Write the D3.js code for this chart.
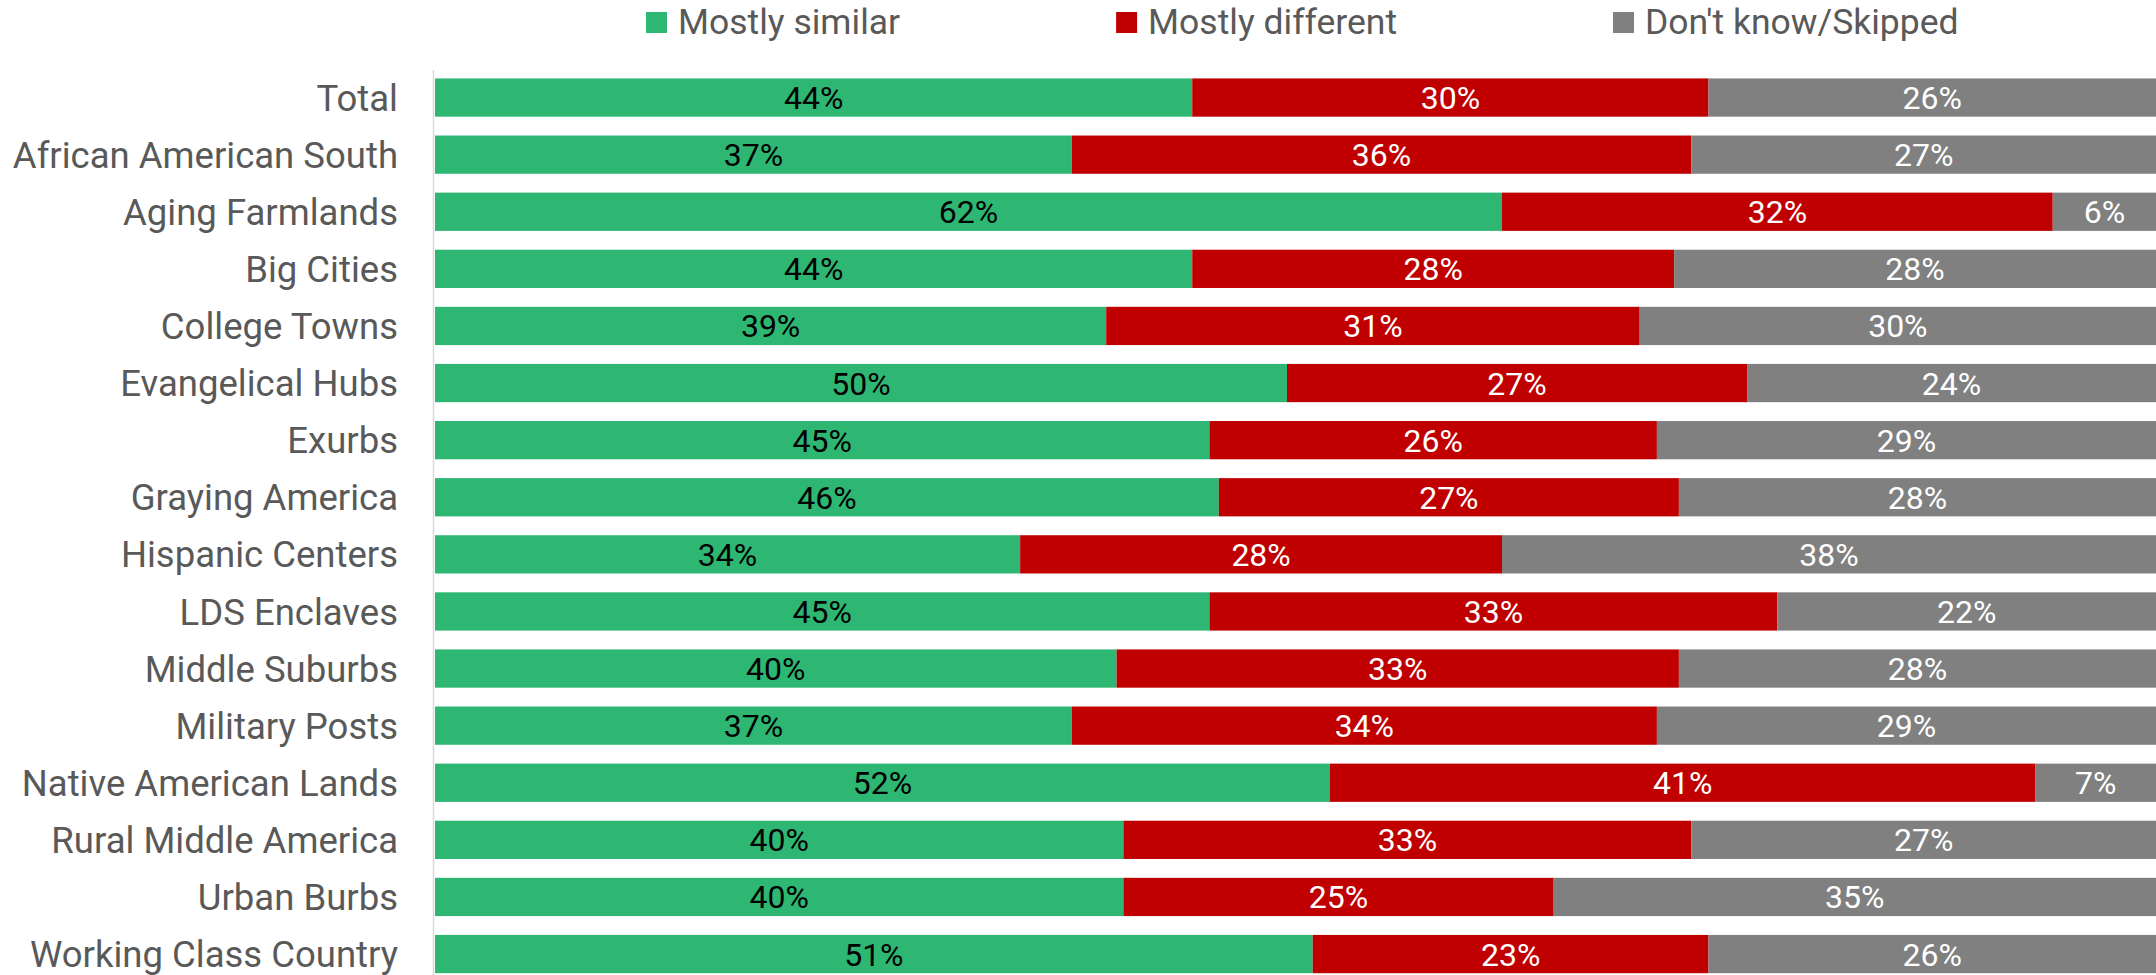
<!DOCTYPE html>
<html>
<head>
<meta charset="utf-8">
<script src="https://cdn.jsdelivr.net/npm/d3@7"></script>
<style>
  html, body { margin: 0; padding: 0; background: #fff; }
  svg { display: block; font-family: Roboto, "Noto Sans", sans-serif; }
</style>
</head>
<body>
<svg id="svg" width="2156" height="975"></svg>
<script>
// data
const categories = [
  "Total", "African American South", "Aging Farmlands", "Big Cities",
  "College Towns", "Evangelical Hubs", "Exurbs", "Graying America",
  "Hispanic Centers", "LDS Enclaves", "Middle Suburbs", "Military Posts",
  "Native American Lands", "Rural Middle America", "Urban Burbs",
  "Working Class Country"
];
const seriesNames = ["Mostly similar", "Mostly different", "Don't know/Skipped"];
const mostlySimilar   = [44, 37, 62, 44, 39, 50, 45, 46, 34, 45, 40, 37, 52, 40, 40, 51];
const mostlyDifferent = [30, 36, 32, 28, 31, 27, 26, 27, 28, 33, 33, 34, 41, 33, 25, 23];
const dontKnow        = [26, 27,  6, 28, 30, 24, 29, 28, 38, 22, 28, 29,  7, 27, 35, 26];
const colors = ["#2eb673", "#c00000", "#808080"];
const labelColors = ["#000", "#fff", "#fff"];

const rows = categories.map((c, i) => ({
  cat: c,
  "Mostly similar": mostlySimilar[i],
  "Mostly different": mostlyDifferent[i],
  "Don't know/Skipped": dontKnow[i]
}));

const svg = d3.select("#svg");
const W = 2156, H = 975;
const plotLeft = 435, plotRight = W, plotTop = 69, step = 57.1;

const x = d3.scaleLinear().domain([0, 1]).range([plotLeft, plotRight]);
const y = d3.scaleBand()
  .domain(categories)
  .range([plotTop, plotTop + step * categories.length])
  .paddingInner(0.33)
  .paddingOuter(0.165);

// 100% stacked
const stack = d3.stack().keys(seriesNames).offset(d3.stackOffsetExpand);
const stacked = stack(rows);

const layer = svg.append("g")
  .selectAll("g.layer")
  .data(stacked)
  .enter()
  .append("g")
  .attr("class", "layer")
  .attr("fill", (d, i) => colors[i]);

layer.selectAll("rect")
  .data((d) => d)
  .enter()
  .append("rect")
  .attr("x", (d) => x(d[0]))
  .attr("y", (d) => y(d.data.cat))
  .attr("width", (d) => x(d[1]) - x(d[0]))
  .attr("height", y.bandwidth());

// value labels
layer.selectAll("text")
  .data((d, i) => d.map((p) => ({ p, key: d.key, i })))
  .enter()
  .append("text")
  .attr("x", (d) => (x(d.p[0]) + x(d.p[1])) / 2)
  .attr("y", (d) => y(d.p.data.cat) + y.bandwidth() / 2)
  .attr("dy", "0.36em")
  .attr("text-anchor", "middle")
  .attr("fill", (d) => labelColors[d.i])
  .style("font-size", "32px")
  .text((d) => d.p.data[d.key] + "%");

// vertical axis line
svg.append("line")
  .attr("x1", plotLeft - 1.5).attr("x2", plotLeft - 1.5)
  .attr("y1", 70).attr("y2", H)
  .attr("stroke", "#d9d9d9")
  .attr("stroke-width", 1.5);

// category labels
svg.append("g")
  .selectAll("text")
  .data(categories)
  .enter()
  .append("text")
  .attr("x", plotLeft - 37)
  .attr("y", (d) => y(d) + y.bandwidth() / 2)
  .attr("dy", "0.36em")
  .attr("text-anchor", "end")
  .attr("fill", "#595959")
  .style("font-size", "36.5px")
  .text((d) => d);

// legend
const legend = svg.append("g");
let lx = 646;
seriesNames.forEach((name, i) => {
  legend.append("rect")
    .attr("x", lx).attr("y", 12)
    .attr("width", 21).attr("height", 21)
    .attr("fill", colors[i]);
  const t = legend.append("text")
    .attr("x", lx + 32)
    .attr("y", 34)
    .attr("fill", "#595959")
    .style("font-size", "35.5px")
    .text(name);
  lx += 32 + t.node().getComputedTextLength() + 216;
});
</script>
</body>
</html>
